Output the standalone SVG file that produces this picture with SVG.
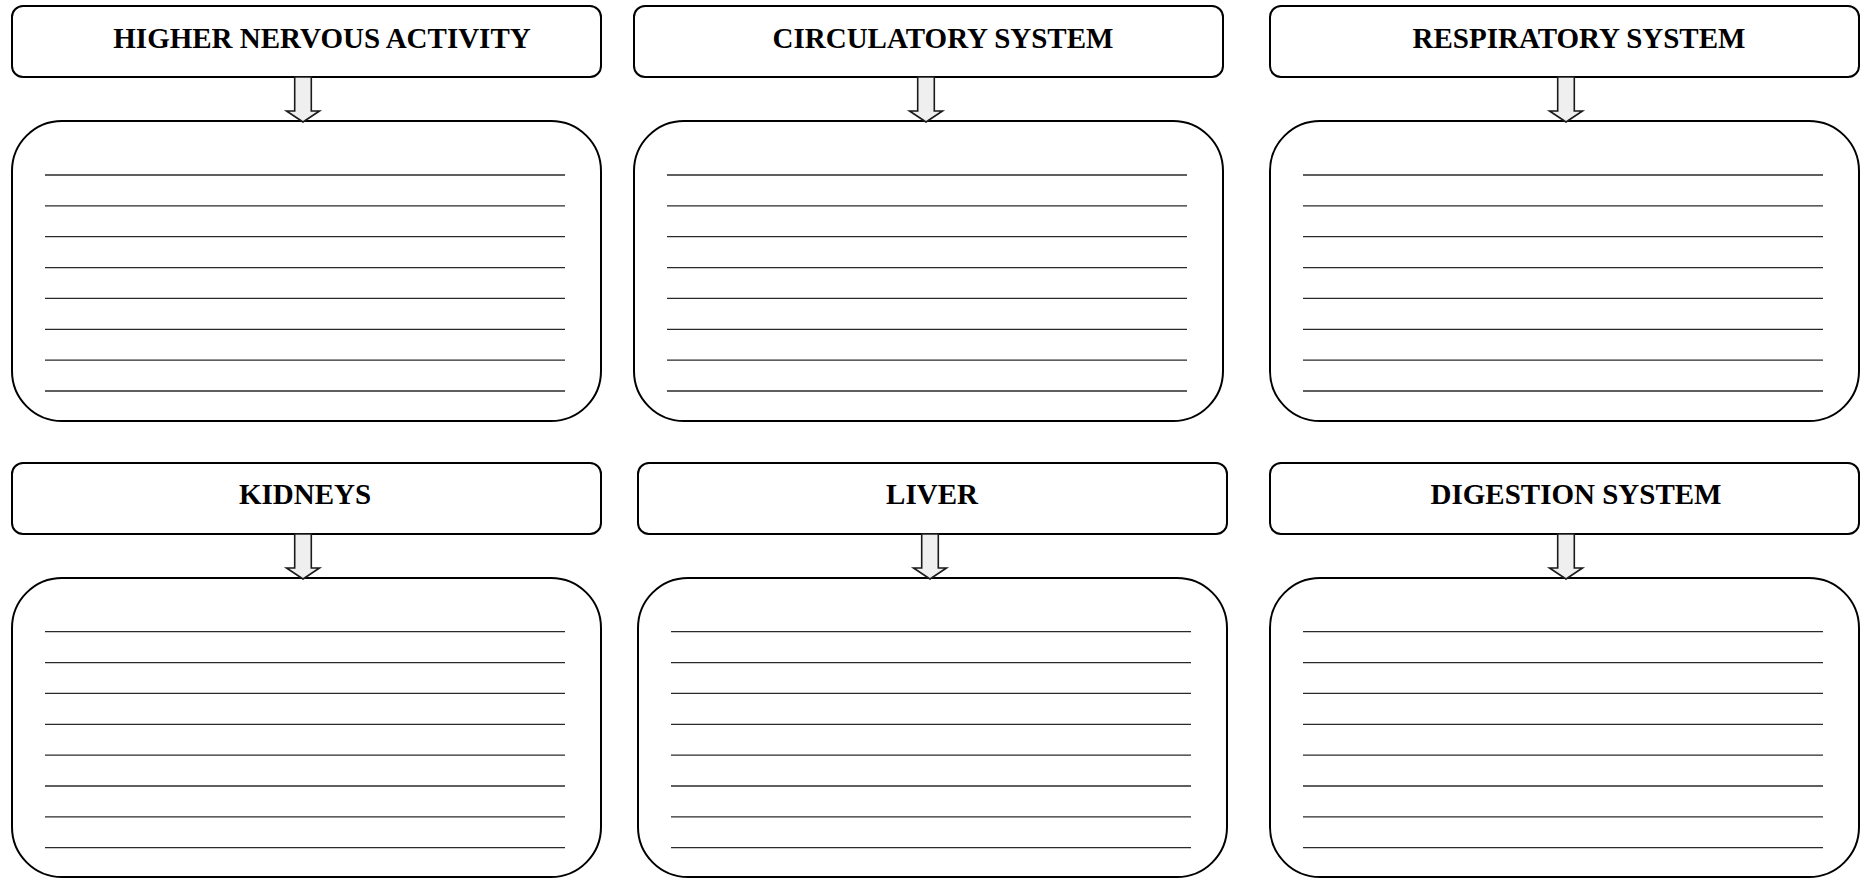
<svg xmlns="http://www.w3.org/2000/svg" width="1861" height="879" viewBox="0 0 1861 879">
  <style>
    .hdr { fill: #ffffff; stroke: #000000; stroke-width: 2; }
    .card { fill: #ffffff; stroke: #000000; stroke-width: 2; }
    .title { font-family: "Liberation Serif", "Times New Roman", serif; font-weight: bold; font-size: 29px; fill: #000000; text-anchor: middle; }
    .rule { stroke: #2a2a2a; stroke-width: 1.3; }
    .arrow { fill: #efefef; stroke: #1a1a1a; stroke-width: 1.6; stroke-linejoin: miter; }
  </style>
  <defs>
    <!-- block arrow pointing down, origin at shaft top centre -->
    <polygon id="down" points="-8.3,0 8.3,0 8.3,34 16.5,34 0,45 -16.5,34 -8.3,34"/>
    <!-- eight writing lines, origin at first line's left end -->
    <g id="rules8">
      <line class="rule" x1="0" y1="0" x2="520" y2="0"/>
      <line class="rule" x1="0" y1="30.9" x2="520" y2="30.9"/>
      <line class="rule" x1="0" y1="61.7" x2="520" y2="61.7"/>
      <line class="rule" x1="0" y1="92.6" x2="520" y2="92.6"/>
      <line class="rule" x1="0" y1="123.4" x2="520" y2="123.4"/>
      <line class="rule" x1="0" y1="154.3" x2="520" y2="154.3"/>
      <line class="rule" x1="0" y1="185.1" x2="520" y2="185.1"/>
      <line class="rule" x1="0" y1="216" x2="520" y2="216"/>
    </g>
  </defs>

  <!-- Row 1 -->
  <g id="higher-nervous-activity">
    <rect class="hdr" x="12" y="6" width="589" height="71" rx="11"/>
    <text class="title" x="322" y="47.5">HIGHER NERVOUS ACTIVITY</text>
  </g>
  <g id="higher-nervous-activity-notes">
    <rect class="card" x="12" y="121" width="589" height="300" rx="50"/>
    <use href="#rules8" x="45" y="175"/>
  </g>

  <g id="circulatory-system">
    <rect class="hdr" x="634" y="6" width="589" height="71" rx="11"/>
    <text class="title" x="943" y="47.5">CIRCULATORY SYSTEM</text>
  </g>
  <g id="circulatory-system-notes">
    <rect class="card" x="634" y="121" width="589" height="300" rx="50"/>
    <use href="#rules8" x="667" y="175"/>
  </g>

  <g id="respiratory-system">
    <rect class="hdr" x="1270" y="6" width="589" height="71" rx="11"/>
    <text class="title" x="1579" y="47.5">RESPIRATORY SYSTEM</text>
  </g>
  <g id="respiratory-system-notes">
    <rect class="card" x="1270" y="121" width="589" height="300" rx="50"/>
    <use href="#rules8" x="1303" y="175"/>
  </g>

  <!-- Row 2 -->
  <g id="kidneys">
    <rect class="hdr" x="12" y="463" width="589" height="71" rx="11"/>
    <text class="title" x="305" y="503.5">KIDNEYS</text>
  </g>
  <g id="kidneys-notes">
    <rect class="card" x="12" y="578" width="589" height="299" rx="50"/>
    <use href="#rules8" x="45" y="631.7"/>
  </g>

  <g id="liver">
    <rect class="hdr" x="638" y="463" width="589" height="71" rx="11"/>
    <text class="title" x="932" y="503.5">LIVER</text>
  </g>
  <g id="liver-notes">
    <rect class="card" x="638" y="578" width="589" height="299" rx="50"/>
    <use href="#rules8" x="671" y="631.7"/>
  </g>

  <g id="digestion-system">
    <rect class="hdr" x="1270" y="463" width="589" height="71" rx="11"/>
    <text class="title" x="1576" y="503.5">DIGESTION SYSTEM</text>
  </g>
  <g id="digestion-system-notes">
    <rect class="card" x="1270" y="578" width="589" height="299" rx="50"/>
    <use href="#rules8" x="1303" y="631.7"/>
  </g>

  <!-- Connectors: header to notes -->
  <g id="connectors">
    <use href="#down" class="arrow" x="303" y="77"/>
    <use href="#down" class="arrow" x="926" y="77"/>
    <use href="#down" class="arrow" x="1566" y="77"/>
    <use href="#down" class="arrow" x="303" y="534"/>
    <use href="#down" class="arrow" x="930" y="534"/>
    <use href="#down" class="arrow" x="1566" y="534"/>
  </g>
</svg>
